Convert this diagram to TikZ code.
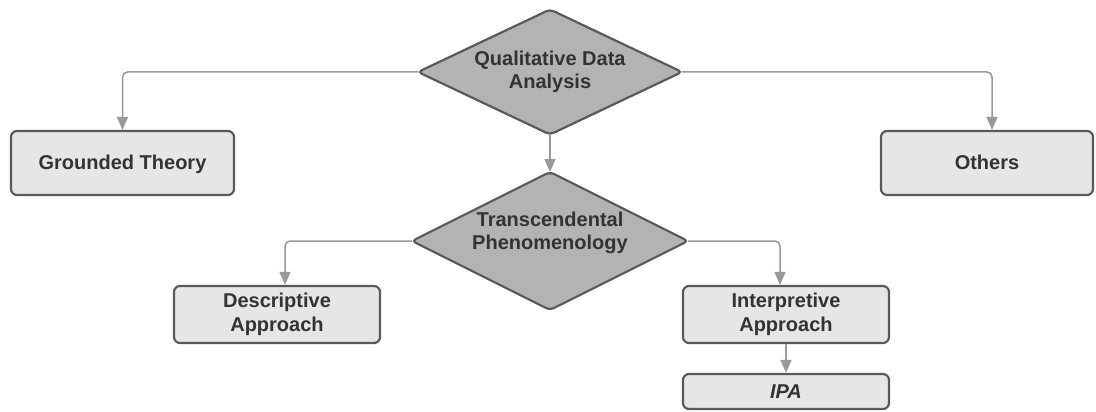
\documentclass[tikz,border=0pt]{standalone}
\usepackage{fontspec}
\setmainfont{Liberation Sans}
\usetikzlibrary{shapes.geometric,arrows.meta}
\definecolor{boxline}{HTML}{5A5A5A}
\definecolor{boxfill}{HTML}{E6E6E6}
\definecolor{diafill}{HTML}{B3B3B3}
\definecolor{conncol}{HTML}{999999}
\definecolor{textcol}{HTML}{333333}
\tikzset{
  lbl/.style={align=center, font=\bfseries\fontsize{20}{23.5}\selectfont, text=textcol},
  box/.style={lbl, draw=boxline, fill=boxfill, line width=2.2pt, rounded corners=6pt, inner sep=0pt},
  diam/.style={lbl, diamond, draw=boxline, fill=diafill, line width=2.2pt, rounded corners=4pt, inner sep=0pt, outer sep=0pt},
  conn/.style={draw=conncol, line width=1.5pt, rounded corners=5pt, -{Triangle[length=13pt,width=11pt]}}
}
\begin{document}
\begin{tikzpicture}[x=1pt,y=-1pt]
\useasboundingbox (0,0) rectangle (1096,412);
\fill[white] (0,0) rectangle (1096,412);
\node[diam, aspect=2.11, minimum width=264, minimum height=125] (qda) at (550,72) {Qualitative Data\\Analysis};
\node[diam, aspect=2.0, minimum width=276, minimum height=138,
  label={[lbl, yshift=8pt]center:Transcendental\\Phenomenology}] (tp) at (550,241) {};
\node[box, minimum width=223, minimum height=64, text depth=0.25ex] (gt) at (122.5,163) {Grounded Theory};
\node[box, minimum width=212, minimum height=64, text depth=0.25ex] (oth) at (987,163) {Others};
\node[box, minimum width=206, minimum height=57] (desc) at (277,314.5) {Descriptive\\Approach};
\node[box, minimum width=206, minimum height=57] (interp) at (786,314.5) {Interpretive\\Approach};
\node[box, minimum width=206, minimum height=35, font=\bfseries\itshape\fontsize{20}{23.5}\selectfont] (ipa) at (786,391.5) {IPA};
\draw[conn] (qda.west) -| (gt.north);
\draw[conn] (qda.east) -| ([xshift=5pt]oth.north);
\draw[conn] (qda.south) -- (tp.north);
\draw[conn] (tp.west) -| ([xshift=8pt]desc.north);
\draw[conn] (tp.east) -| ([xshift=-6pt]interp.north);
\draw[conn] (interp.south) -- (ipa.north);
\end{tikzpicture}
\end{document}
